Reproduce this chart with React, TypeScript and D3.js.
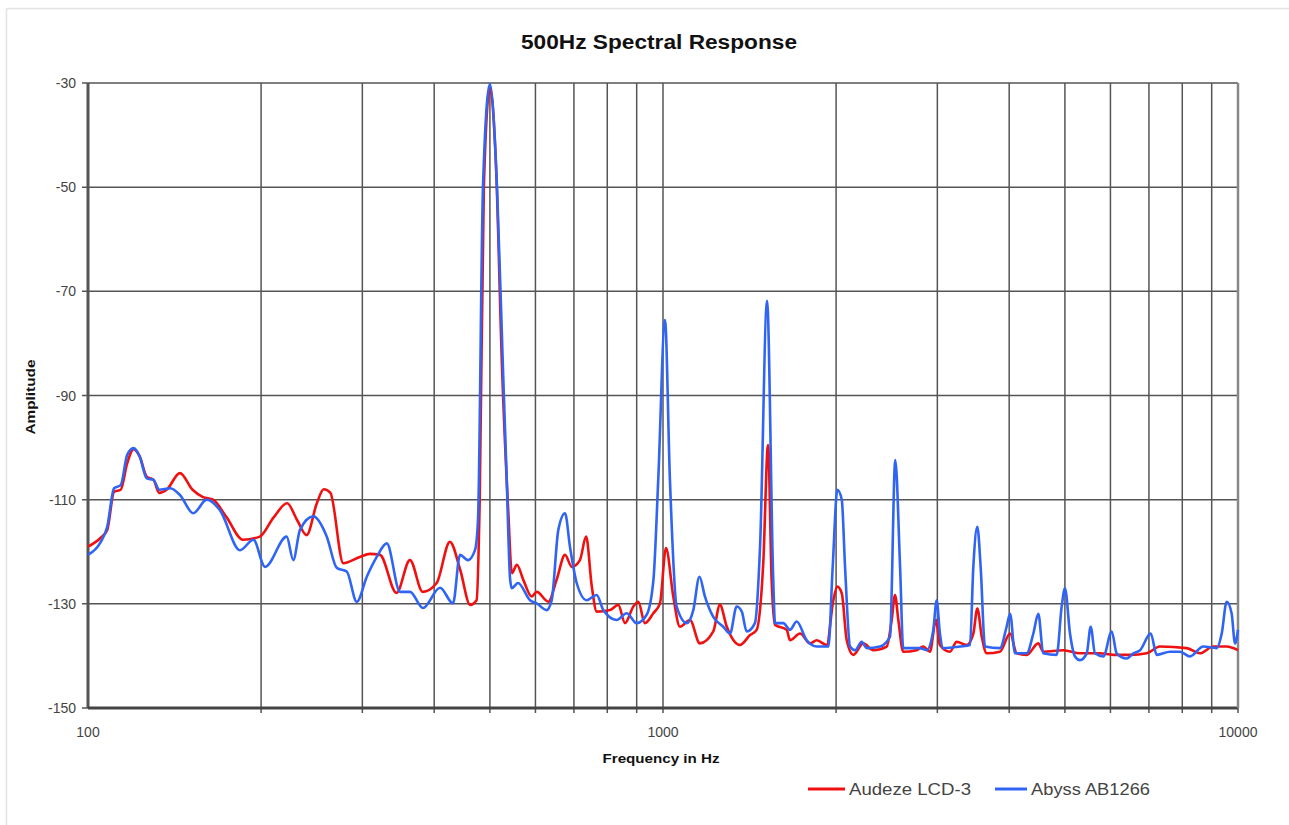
import * as d3 from "d3";

// frequency (Hz) / amplitude (dB)
const audezeFreq = [
  100, 105, 108, 111, 114, 117, 120, 123, 126.5, 130, 133, 137, 144.5, 152, 158.5, 165, 174, 186, 199, 210,
  222, 231, 240, 250, 257, 264, 278, 297, 309, 322, 344, 363, 382, 404, 426, 444, 462, 474, 480, 488,
  500, 512, 525, 538, 546, 557, 571.5, 591, 603, 632, 653, 675.5, 694, 717, 735, 752, 767, 809, 836, 859,
  888, 906, 930, 962, 988, 1012, 1042, 1070, 1114, 1159, 1223, 1256, 1291, 1361, 1417, 1455, 1494, 1523, 1545, 1566,
  1641, 1663, 1731, 1802, 1851, 1926, 1978, 2010, 2046, 2087, 2143, 2230, 2321, 2449, 2499, 2532, 2566, 2617, 2761, 2835,
  2912, 2983, 3031, 3155, 3241, 3374, 3465, 3521, 3584, 3656, 3855, 4014, 4123, 4291, 4495, 4585, 4968, 5311, 5754, 6069,
  6490, 6937, 7316, 8143, 8587, 9057, 9557, 10000,
];
const audezeDb = [
  -119, -117.4, -115.8, -108.5, -108.1, -103, -100.3, -101.7, -105.6, -106.2, -108.7, -108.1, -104.9, -108.1, -109.5, -110, -113.3, -117.7, -117.1, -113.5,
  -110.7, -113.9, -116.8, -110.7, -108, -108.7, -122.2, -121, -120.4, -120.6, -127.9, -121.6, -127.7, -126, -118.1, -123.5, -130.2, -129.3, -110, -50,
  -31, -45, -85, -112, -124.1, -122.5, -125.4, -128.6, -127.7, -129.6, -125.4, -120.6, -122.9, -121.6, -117.1, -126.7, -131.5, -131.2, -130.2, -133.7,
  -130.5, -129.6, -133.7, -131.8, -129.9, -119.3, -128.6, -134.4, -133.1, -137.6, -135.3, -130.2, -134.4, -137.9, -136, -135, -122.2, -99.5, -125.4, -134,
  -135, -137, -135.7, -137.6, -137, -137.9, -129.3, -126.7, -128, -137, -139.8, -137.6, -138.9, -138.2, -133.1, -128.3, -133.1, -139.2, -138.9, -138.2,
  -139.2, -133.1, -137.9, -139.2, -137.3, -137.9, -135.7, -130.9, -136.3, -139.5, -139.2, -135.7, -139.5, -139.8, -137.6, -139.2, -138.9, -139.5, -139.5, -139.8,
  -139.8, -139.5, -138.2, -138.5, -139.5, -138.2, -138.2, -138.9,
];

const abyssFreq = [
  100, 105, 108, 111, 114, 117, 120, 123, 126.5, 130, 133, 139, 144.5, 152.4, 160.9, 169.6, 183.8, 193.9, 203.2, 221.6,
  227.5, 233.7, 246.5, 260.2, 270.8, 281.8, 293.4, 305.4, 317.8, 330.8, 348.9, 363.1, 382.4, 409.5, 431.3, 443.6, 458, 471, 476.7, 486.3,
  500, 514.4, 526.9, 534.8, 541.9, 545.7, 559.5, 587.2, 603.1, 627.7, 640.4, 657.6, 675.5, 688.9, 707.8, 736.8, 766.8, 787.3, 830.6, 864.6,
  900.1, 936.6, 962.4, 981.3, 1008, 1028, 1056, 1100, 1129, 1157, 1183, 1223, 1273, 1308, 1343, 1371, 1398, 1445, 1475, 1517,
  1555, 1566, 1619, 1663, 1708, 1778, 1851, 1939, 1973, 2010, 2046, 2073, 2115, 2158, 2216, 2261, 2384, 2482, 2535, 2584,
  2617, 2799, 2874, 2952, 2992, 3031, 3072, 3285, 3419, 3465, 3521, 3568, 3631, 3855, 3959, 4014, 4095, 4291, 4406, 4495,
  4585, 4838, 4936, 5001, 5103, 5206, 5311, 5457, 5544, 5640, 5832, 6031, 6152, 6404, 6577, 6755, 7051, 7222, 7615, 7927,
  8251, 8703, 9183, 9369, 9557, 9750, 9881, 10000,
];
const abyssDb = [
  -120.6, -118.3, -115.2, -107.8, -107.2, -101.4, -100.1, -101.7, -105.9, -106.2, -108.1, -107.8, -109.1, -112.6, -110, -112, -119.7, -117.7, -122.9, -117.1,
  -121.6, -115.8, -113.2, -117.1, -123.1, -123.8, -129.6, -124.8, -121, -118.4, -127.7, -127.7, -130.8, -126.9, -129.9, -120.6, -121.6, -119.7, -113.9, -50,
  -30.2, -50, -85, -106, -125, -127, -126, -129.3, -129.9, -131.2, -129.3, -115.8, -112.6, -119, -126, -129.3, -128.3, -131.2, -133.1, -131.8,
  -133.7, -132.1, -125.4, -106, -75.5, -106, -130.5, -133.7, -131.2, -124.8, -128.6, -132.5, -134.4, -135.7, -130.5, -131.5, -135.3, -133.7, -119, -71.8,
  -125.4, -133.7, -133.7, -135, -133.4, -137, -138.2, -138.2, -122.9, -108.1, -110, -122.9, -138.2, -138.9, -137.3, -138.5, -138.2, -136.3, -102.4, -122.9,
  -138.5, -138.5, -138.9, -135, -129.3, -135.7, -138.5, -138.2, -137.9, -122.9, -115.2, -122.9, -138.2, -138.5, -134.4, -131.9, -139.5, -139.5, -135.7, -131.9,
  -139.5, -139.8, -130.5, -127, -135.7, -140.1, -140.8, -139.5, -134.4, -139.5, -140.1, -135.3, -139.5, -140.5, -139.5, -138.9, -135.7, -139.8, -139.2, -139.2,
  -140.1, -138.2, -138.5, -135.7, -129.6, -131.9, -137.6, -135,
];

const yTicks = [-150, -130, -110, -90, -70, -50, -30];
const xGrid = [
  200, 300, 400, 500, 600, 700, 800, 900, 1000,
  2000, 3000, 4000, 5000, 6000, 7000, 8000, 9000, 10000,
];
const xLabels = [100, 1000, 10000];

const series = [
  { name: "Audeze LCD-3", freq: audezeFreq, db: audezeDb, color: "#f01010" },
  { name: "Abyss AB1266", freq: abyssFreq, db: abyssDb, color: "#2f64f5" },
];

const W = 1289;
const H = 825;
const left = 88;
const right = 1238;
const top = 83;
const bottom = 708;
const font = "Arial, 'Liberation Sans', sans-serif";

export default function App() {
  const x = d3.scaleLog().domain([100, 10000]).range([left, right]);
  const y = d3.scaleLinear().domain([-150, -30]).range([bottom, top]);

  const line = d3
    .line<[number, number]>()
    .x((d) => x(d[0]))
    .y((d) => y(d[1]))
    .curve(d3.curveMonotoneX);

  return (
    <svg
      width={W}
      height={H}
      style={{ position: "absolute", left: 0, top: 0, background: "#fff" }}
    >
      {/* faint outer frame */}
      <line x1={6.5} y1={8.5} x2={W} y2={8.5} stroke="#e2e2e2" strokeWidth={1.5} />
      <line x1={6.5} y1={8.5} x2={6.5} y2={H} stroke="#e2e2e2" strokeWidth={1.5} />

      <text
        x={659}
        y={49}
        textAnchor="middle"
        fontFamily={font}
        fontWeight="bold"
        fontSize={20}
        textLength={276}
        lengthAdjust="spacingAndGlyphs"
        fill="#111"
      >
        500Hz Spectral Response
      </text>

      {/* grid */}
      {yTicks.map((t) => (
        <g key={"y" + t}>
          <line x1={left - 6} x2={right} y1={y(t)} y2={y(t)} stroke="#555" strokeWidth={1.5} />
          <text x={76} y={y(t) + 5} textAnchor="end" fontFamily={font} fontSize={14} fill="#444">
            {t}
          </text>
        </g>
      ))}
      {xGrid.map((t) => (
        <line key={"x" + t} x1={x(t)} x2={x(t)} y1={top} y2={bottom + 5} stroke="#555" strokeWidth={1.5} />
      ))}
      <line x1={left} x2={left} y1={top} y2={bottom} stroke="#555" strokeWidth={3} />
      <line x1={left} x2={right} y1={bottom} y2={bottom} stroke="#444" strokeWidth={3} />
      <line x1={right} x2={right} y1={top} y2={bottom} stroke="#888" strokeWidth={2.5} />

      {xLabels.map((t) => (
        <text key={"l" + t} x={x(t)} y={737} textAnchor="middle" fontFamily={font} fontSize={14} fill="#444">
          {t}
        </text>
      ))}

      <text
        x={661}
        y={763}
        textAnchor="middle"
        fontFamily={font}
        fontWeight="bold"
        fontSize={13}
        textLength={117}
        lengthAdjust="spacingAndGlyphs"
        fill="#111"
      >
        Frequency in Hz
      </text>
      <text
        transform={`translate(35, ${397}) rotate(-90)`}
        textAnchor="middle"
        fontFamily={font}
        fontWeight="bold"
        fontSize={13}
        textLength={75}
        lengthAdjust="spacingAndGlyphs"
        fill="#111"
      >
        Amplitude
      </text>

      {/* series */}
      {series.map((s) => (
        <path
          key={s.name}
          d={line(s.freq.map((f, i) => [f, s.db[i]] as [number, number])) || ""}
          fill="none"
          stroke={s.color}
          strokeWidth={2.6}
          strokeLinejoin="round"
        />
      ))}

      {/* legend */}
      {series.map((s, i) => {
        const lx = i === 0 ? 808 : 995;
        const len = i === 0 ? 37 : 32;
        return (
          <g key={"lg" + s.name}>
            <line x1={lx} x2={lx + len} y1={789} y2={789} stroke={s.color} strokeWidth={3} />
            <text
              x={lx + len + 4}
              y={795}
              fontFamily={font}
              fontSize={17}
              textLength={i === 0 ? 122 : 119}
              lengthAdjust="spacingAndGlyphs"
              fill="#444"
            >
              {s.name}
            </text>
          </g>
        );
      })}
    </svg>
  );
}
